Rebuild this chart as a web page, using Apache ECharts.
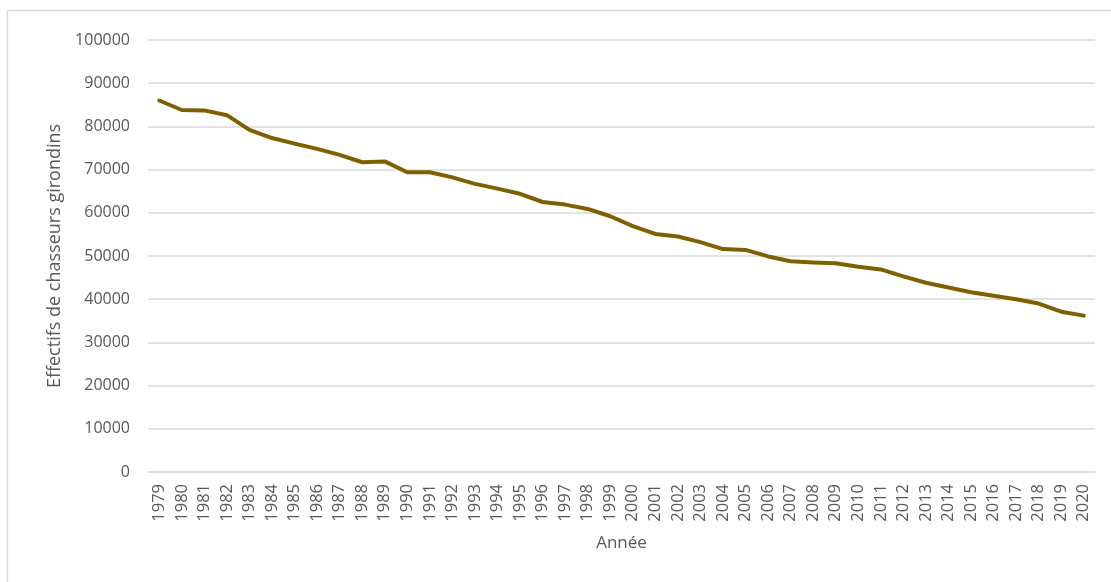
<!DOCTYPE html>
<html>
<head>
<meta charset="utf-8">
<script src="https://cdn.jsdelivr.net/npm/echarts@6/dist/echarts.min.js"></script>
<style>
  html, body { margin: 0; padding: 0; background: #ffffff; }
  #chart { width: 1111px; height: 582px; }
</style>
</head>
<body>
<div id="chart"></div>
<script>
// Années (axe des catégories)
const years = [
  '1979','1980','1981','1982','1983','1984','1985','1986','1987','1988',
  '1989','1990','1991','1992','1993','1994','1995','1996','1997','1998',
  '1999','2000','2001','2002','2003','2004','2005','2006','2007','2008',
  '2009','2010','2011','2012','2013','2014','2015','2016','2017','2018',
  '2019','2020'
];

// Effectifs de chasseurs en Gironde
const hunters = [
  86000, 83800, 83700, 82600, 79200, 77300, 76000, 74800, 73400, 71700,
  71900, 69400, 69400, 68200, 66700, 65600, 64400, 62500, 61900, 60900,
  59200, 56900, 55100, 54500, 53200, 51600, 51400, 49900, 48800, 48500,
  48300, 47500, 46900, 45300, 43800, 42700, 41600, 40800, 40000, 39000,
  37100, 36200
];

// Graduations de l'axe vertical
const yMin = 0;
const yMax = 100000;
const yStep = 10000;

const textColor = '#595959';
const gridColor = '#d9d9d9';
const fontFamily = '"Open Sans", "Liberation Sans", sans-serif';

const chart = echarts.init(document.getElementById('chart'));
chart.setOption({
  animation: false,
  backgroundColor: '#ffffff',
  textStyle: { fontFamily: fontFamily, color: textColor },
  graphic: [{
    type: 'rect',
    shape: { x: 7.5, y: 10.5, width: 1200, height: 700 },
    style: { fill: 'none', stroke: gridColor, lineWidth: 1.5 },
    silent: true
  }],
  grid: { left: 148, right: 16, top: 40, bottom: 110, containLabel: false },
  xAxis: {
    type: 'category',
    data: years,
    boundaryGap: true,
    name: 'Année',
    nameLocation: 'middle',
    nameGap: 63,
    nameTextStyle: { fontSize: 17, color: textColor, fontFamily: fontFamily },
    axisLine: { show: true, lineStyle: { color: gridColor, width: 1.5 } },
    axisTick: { show: false },
    axisLabel: {
      interval: 0,
      rotate: 90,
      margin: 12,
      fontSize: 16.5,
      color: textColor,
      fontFamily: fontFamily
    },
    splitLine: { show: false }
  },
  yAxis: {
    type: 'value',
    min: yMin,
    max: yMax,
    interval: yStep,
    name: 'Effectifs de chasseurs girondins',
    nameLocation: 'middle',
    nameGap: 68,
    nameRotate: 90,
    nameTextStyle: { fontSize: 18, color: textColor, fontFamily: fontFamily },
    axisLine: { show: false },
    axisTick: { show: false },
    axisLabel: {
      margin: 18,
      fontSize: 16,
      color: textColor,
      fontFamily: fontFamily,
      formatter: function (v) { return String(v); }
    },
    splitLine: { show: true, lineStyle: { color: gridColor, width: 1.5 } }
  },
  series: [{
    type: 'line',
    data: hunters,
    showSymbol: false,
    symbol: 'none',
    smooth: false,
    lineStyle: { color: '#7f6000', width: 4, cap: 'round', join: 'round' },
    itemStyle: { color: '#7f6000' }
  }]
});
</script>
</body>
</html>
